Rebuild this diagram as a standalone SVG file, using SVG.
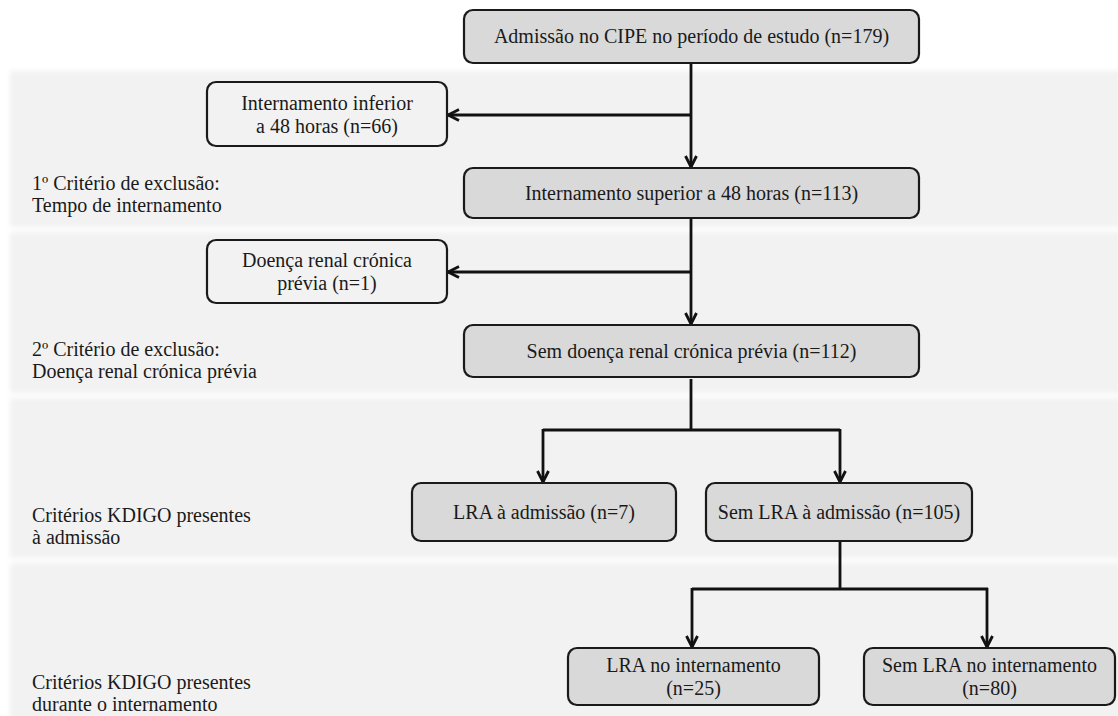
<svg xmlns="http://www.w3.org/2000/svg" width="1118" height="716" viewBox="0 0 1118 716" font-family="'Liberation Serif', 'DejaVu Serif', serif">
<style>
  .t { font-family: 'Liberation Serif', 'DejaVu Serif', serif; font-size: 20px; fill: #1a1a1a; }
  .c { text-anchor: middle; }
  .box { fill: #d9d9d9; stroke: #1a1a1a; stroke-width: 2.2; }
  .exc { fill: none; stroke: #1a1a1a; stroke-width: 2.2; }
  .band { fill: #f2f2f2; }
  .ln { fill: none; stroke: #111; stroke-width: 2.8; }
</style>
<defs>
  <filter id="soft" x="-5%" y="-10%" width="110%" height="120%">
    <feGaussianBlur stdDeviation="2.5"/>
  </filter>
  <marker id="arr" viewBox="0 0 14 14" refX="12.5" refY="7" markerWidth="14" markerHeight="14" markerUnits="userSpaceOnUse" orient="auto">
    <path d="M1.5,1.5 L12.5,7 L1.5,12.5" fill="none" stroke="#111" stroke-width="2.8"/>
  </marker>
</defs>
<rect width="1118" height="716" fill="#ffffff"/>
<g id="bands" filter="url(#soft)">
  <rect class="band" x="10" y="71" width="1120" height="156"/>
  <rect class="band" x="10" y="232" width="1120" height="161"/>
  <rect class="band" x="10" y="398" width="1120" height="160"/>
  <rect class="band" x="10" y="563" width="1120" height="170"/>
</g>
<g id="labels" class="t">
  <text x="32" y="190">1º Critério de exclusão:</text>
  <text x="32" y="212">Tempo de internamento</text>
  <text x="32" y="356">2º Critério de exclusão:</text>
  <text x="32" y="378">Doença renal crónica prévia</text>
  <text x="32" y="522">Critérios KDIGO presentes</text>
  <text x="32" y="544">à admissão</text>
  <text x="32" y="689">Critérios KDIGO presentes</text>
  <text x="32" y="711">durante o internamento</text>
</g>
<g id="connectors">
  <path class="ln" d="M691,63 V167" marker-end="url(#arr)"/>
  <path class="ln" d="M691,115 H448" marker-end="url(#arr)"/>
  <path class="ln" d="M691,219 V324" marker-end="url(#arr)"/>
  <path class="ln" d="M691,272 H448" marker-end="url(#arr)"/>
  <path class="ln" d="M691,379 V430 M543,430 H840"/>
  <path class="ln" d="M543,429 V482" marker-end="url(#arr)"/>
  <path class="ln" d="M840,429 V482" marker-end="url(#arr)"/>
  <path class="ln" d="M840,542 V589 M692,589 H988"/>
  <path class="ln" d="M692,588 V647" marker-end="url(#arr)"/>
  <path class="ln" d="M987,588 V647" marker-end="url(#arr)"/>
</g>
<g id="n_admissao" class="t">
  <rect class="box" x="464" y="10" width="455" height="53" rx="9"/>
  <text class="c" x="691.5" y="43">Admissão no CIPE no período de estudo (n=179)</text>
</g>
<g id="n_inferior48" class="t">
  <rect class="exc" x="207" y="82" width="240" height="64" rx="9"/>
  <text class="c" x="327" y="110">Internamento inferior</text>
  <text class="c" x="327" y="133">a 48 horas (n=66)</text>
</g>
<g id="n_superior48" class="t">
  <rect class="box" x="464" y="168" width="455" height="50" rx="9"/>
  <text class="c" x="691.5" y="200">Internamento superior a 48 horas (n=113)</text>
</g>
<g id="n_drc" class="t">
  <rect class="exc" x="207" y="240" width="240" height="63" rx="9"/>
  <text class="c" x="327" y="267">Doença renal crónica</text>
  <text class="c" x="327" y="290">prévia (n=1)</text>
</g>
<g id="n_sem_drc" class="t">
  <rect class="box" x="464" y="325" width="455" height="52" rx="9"/>
  <text class="c" x="691.5" y="358">Sem doença renal crónica prévia (n=112)</text>
</g>
<g id="n_lra_adm" class="t">
  <rect class="box" x="412" y="483" width="264" height="58" rx="9"/>
  <text class="c" x="544" y="519">LRA à admissão (n=7)</text>
</g>
<g id="n_sem_lra_adm" class="t">
  <rect class="box" x="706" y="483" width="266" height="58" rx="9"/>
  <text class="c" x="839" y="519">Sem LRA à admissão (n=105)</text>
</g>
<g id="n_lra_int" class="t">
  <rect class="box" x="568" y="648" width="251" height="57" rx="9"/>
  <text class="c" x="693.5" y="672">LRA no internamento</text>
  <text class="c" x="693.5" y="695">(n=25)</text>
</g>
<g id="n_sem_lra_int" class="t">
  <rect class="box" x="864" y="648" width="251" height="57" rx="9"/>
  <text class="c" x="989.5" y="672">Sem LRA no internamento</text>
  <text class="c" x="989.5" y="695">(n=80)</text>
</g>
</svg>
